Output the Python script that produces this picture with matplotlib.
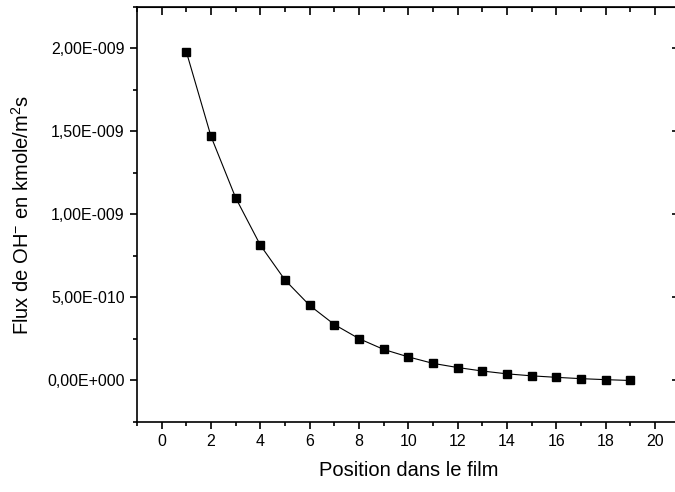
import numpy as np
import matplotlib
matplotlib.use("Agg")
import matplotlib.pyplot as plt
from matplotlib.ticker import MultipleLocator, FuncFormatter, NullFormatter

plt.rcParams['font.family'] = ['Liberation Sans', 'DejaVu Sans']
plt.rcParams['mathtext.fontset'] = 'custom'
plt.rcParams['mathtext.rm'] = 'Liberation Sans'
plt.rcParams['mathtext.it'] = 'Liberation Sans:italic'

# position in the film vs OH- flux (kmole/m2s)
position = [1, 2, 3, 4, 5, 6, 7, 8, 9, 10, 11, 12, 13, 14, 15, 16, 17, 18, 19]
flux = [1.98e-9, 1.47e-9, 1.10e-9, 0.815e-9, 0.605e-9, 0.452e-9, 0.337e-9,
        0.252e-9, 0.187e-9, 0.142e-9, 0.103e-9, 0.078e-9, 0.057e-9, 0.040e-9,
        0.028e-9, 0.019e-9, 0.011e-9, 0.005e-9, 0.0]

xlim = (-1, 21)
ylim = (-0.25e-9, 2.25e-9)


def fr_sci(v, pos):
    # french style origin labels, nothing outside the visible range
    if v < ylim[0] or v > ylim[1]:
        return ""
    if abs(v) < 1e-15:
        return "0,00E+000"
    m, e = f"{v:.2E}".split("E")
    e = int(e)
    sign = "-" if e < 0 else "+"
    return f"{m.replace('.', ',')}E{sign}{abs(e):03d}"


def x_fmt(v, pos):
    if v < xlim[0] or v > xlim[1]:
        return ""
    return f"{v:g}"


fig = plt.figure(figsize=(6.75, 4.92), dpi=100)
ax = fig.add_axes([0.203, 0.1423, 0.804, 0.8435])

ax.plot(position, flux, color='black', linewidth=0.8, marker='s',
        markersize=6, markerfacecolor='black', markeredgecolor='black')

ax.set_xlim(*xlim)
ax.set_ylim(*ylim)

ax.xaxis.set_major_locator(MultipleLocator(2))
ax.xaxis.set_minor_locator(MultipleLocator(1))
ax.xaxis.set_major_formatter(FuncFormatter(x_fmt))
ax.yaxis.set_major_locator(MultipleLocator(5e-10))
ax.yaxis.set_minor_locator(MultipleLocator(2.5e-10))
ax.yaxis.set_major_formatter(FuncFormatter(fr_sci))

ax.tick_params(axis='both', which='major', length=5, width=1.2, labelsize=11.5,
               colors='black', pad=4)
ax.tick_params(axis='both', which='minor', length=3, width=1.2)
ax.tick_params(axis='x', which='both', direction='out', top=False)
ax.tick_params(axis='y', which='both', direction='out', right=False)

# inward ticks on the top and right sides
axt = ax.secondary_xaxis('top')
axt.xaxis.set_major_locator(MultipleLocator(2))
axt.xaxis.set_minor_locator(MultipleLocator(1))
axt.xaxis.set_major_formatter(NullFormatter())
axt.tick_params(which='major', direction='in', length=6, width=1.2, labeltop=False)
axt.tick_params(which='minor', direction='in', length=3.5, width=1.2)
axr = ax.secondary_yaxis('right')
axr.yaxis.set_major_locator(MultipleLocator(5e-10))
axr.yaxis.set_minor_locator(MultipleLocator(2.5e-10))
axr.yaxis.set_major_formatter(NullFormatter())
axr.tick_params(which='major', direction='in', length=6, width=1.2, labelright=False)
axr.tick_params(which='minor', direction='in', length=3.5, width=1.2)

for s in ax.spines.values():
    s.set_linewidth(1.2)

ax.set_xlabel("Position dans le film", fontsize=14.5, labelpad=8)
ax.set_ylabel("Flux de OH$^{-}$ en kmole/m$^{2}$s", fontsize=14.5, labelpad=10)

fig.savefig("out.png", dpi=100)
